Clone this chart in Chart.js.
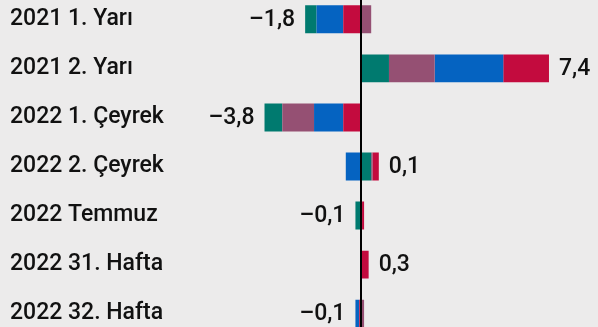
<!DOCTYPE html>
<html>
<head>
<meta charset="utf-8">
<script src="https://cdn.jsdelivr.net/npm/chart.js@4/dist/chart.umd.min.js"></script>
<style>
  html, body { margin: 0; padding: 0; background: #ecebeb; overflow: hidden; }
  #wrap { position: relative; width: 598px; height: 327px; overflow: hidden; }
  #grafico { position: absolute; left: 0; top: -19px; }
</style>
</head>
<body>
<div id="wrap"><canvas id="grafico" width="598" height="371"></canvas></div>
<script>
// Dönemler
const donemler = ['2021 1. Yarı', '2021 2. Yarı', '2022 1. Çeyrek', '2022 2. Çeyrek', '2022 Temmuz', '2022 31. Hafta', '2022 32. Hafta'];

// Katkılar (puan)
const yesil = [-0.45, 1.1, -0.7, 0.4, -0.18, 0, 0.03];
const mor = [0.4, 1.8, -1.25, 0.05, 0.04, 0, 0.09];
const mavi = [-1.05, 2.7, -1.15, -0.6, -0.04, 0.02, -0.15];
const kirmizi = [-0.7, 1.8, -0.7, 0.25, 0.08, 0.28, -0.07];

const seriler = [
  { ad: 'yesil', renk: '#007a6f', veri: yesil },
  { ad: 'mor', renk: '#955073', veri: mor },
  { ad: 'mavi', renk: '#0563c1', veri: mavi },
  { ad: 'kirmizi', renk: '#c30b3e', veri: kirmizi }
];

const yazi = '500 23px Roboto, "Open Sans", sans-serif';

// Pozitifler sıfırdan sağa yeşil->kırmızı, negatifler sıfırdan sola kırmızı->yeşil
const datasets = [];
seriler.forEach(s => {
  datasets.push({
    label: s.ad + '+',
    data: s.veri.map(v => v > 0 ? v : null),
    backgroundColor: s.renk,
    stack: 'toplam'
  });
});
seriler.slice().reverse().forEach(s => {
  datasets.push({
    label: s.ad + '-',
    data: s.veri.map(v => v < 0 ? v : null),
    backgroundColor: s.renk,
    stack: 'toplam'
  });
});

function formatla(v) {
  const r = Math.round(v * 10) / 10;
  const t = Math.abs(r).toFixed(1).replace('.', ',');
  return r < 0 ? '–' + t : t;
}

// Sıfır çizgisi ve toplam etiketleri
const toplamEklentisi = {
  id: 'toplamlar',
  afterDatasetsDraw(chart) {
    const ctx = chart.ctx;
    const x = chart.scales.x;
    const y = chart.scales.y;
    const x0 = Math.round(x.getPixelForValue(0));

    ctx.save();
    ctx.fillStyle = '#000';
    ctx.fillRect(x0 - 1, 0, 2, chart.height);

    ctx.font = yazi;
    ctx.fillStyle = '#111';
    ctx.textBaseline = 'middle';
    donemler.forEach((d, i) => {
      let pozitif = 0, negatif = 0;
      seriler.forEach(s => {
        const v = s.veri[i];
        if (v > 0) pozitif += v; else negatif += v;
      });
      const toplam = pozitif + negatif;
      const yp = y.getPixelForValue(i) + 1;
      if (toplam < 0) {
        ctx.textAlign = 'right';
        ctx.fillText(formatla(toplam), x.getPixelForValue(negatif) - 10, yp);
      } else {
        ctx.textAlign = 'left';
        ctx.fillText(formatla(toplam), x.getPixelForValue(pozitif) + 10, yp);
      }
    });
    ctx.restore();
  }
};

new Chart(document.getElementById('grafico'), {
  type: 'bar',
  data: { labels: donemler, datasets },
  options: {
    indexAxis: 'y',
    responsive: false,
    animation: false,
    layout: { padding: { left: 10, right: 0, top: 0, bottom: 0 } },
    datasets: {
      bar: { categoryPercentage: 1, barPercentage: 0.57, borderWidth: 0 }
    },
    scales: {
      x: {
        stacked: true,
        display: false,
        min: -6.34,
        max: 9.33
      },
      y: {
        stacked: true,
        grid: { display: false },
        border: { display: false },
        afterFit(scale) { scale.width = 190; },
        ticks: {
          crossAlign: 'far',
          padding: 0,
          color: '#111',
          font: { family: 'Roboto, "Open Sans", sans-serif', size: 23, weight: '500' }
        }
      }
    },
    plugins: {
      legend: { display: false },
      tooltip: { enabled: false }
    }
  },
  plugins: [toplamEklentisi]
});
</script>
</body>
</html>
